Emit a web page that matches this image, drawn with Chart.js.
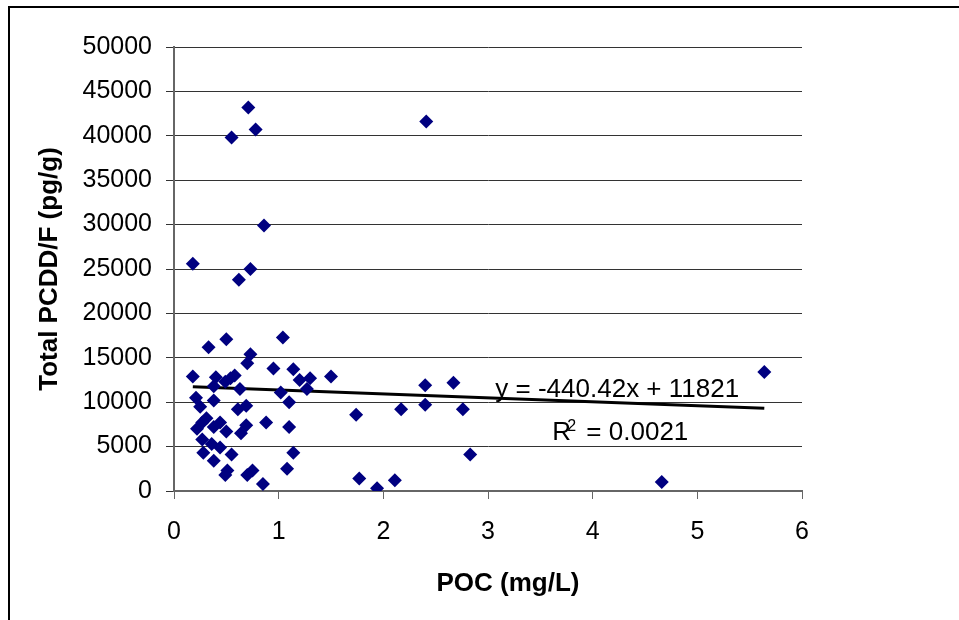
<!DOCTYPE html>
<html>
<head>
<meta charset="utf-8">
<script src="https://cdn.jsdelivr.net/npm/chart.js@4/dist/chart.umd.min.js"></script>
<style>
  html, body { margin: 0; padding: 0; background: #fff; }
  #wrap { width: 959px; height: 620px; }
</style>
</head>
<body>
<div id="wrap"><canvas id="poc-chart" width="959" height="620"></canvas></div>
<script>
// POC (mg/L)
const pocValues = [
  0.50, 0.33, 1.04, 0.73, 0.70, 0.95, 1.14, 0.18, 0.40, 0.58,
  0.54, 0.49, 0.38, 0.63, 1.20, 1.30, 1.50, 1.02, 1.27, 0.21,
  0.25, 0.38, 0.61, 0.69, 1.10, 1.74, 0.31, 0.27, 0.22, 0.44,
  0.38, 0.50, 0.69, 0.64, 0.88, 1.10, 0.27, 0.36, 0.44, 0.28,
  0.55, 1.14, 0.38, 0.51, 0.49, 0.75, 0.70, 1.08, 0.85, 1.77,
  0.55, 0.71, 0.78, 0.18, 0.73, 0.62, 0.86, 2.41, 2.40, 2.67,
  2.17, 2.40, 2.76, 2.83, 1.94, 2.11, 5.64, 4.66
];

// Total PCDD/F (pg/g), same order
const pcddValues = [
  17100, 16200, 17300, 15400, 14400, 13800, 13700, 12900, 12800, 13000,
  12700, 12300, 11800, 11500, 12500, 12700, 12900, 11100, 11500, 10500,
  9500, 10200, 9200, 9600, 10000, 8600, 8200, 7700, 7000, 7700,
  7200, 6700, 7400, 6500, 7700, 7200, 5800, 5300, 4900, 4300,
  4100, 4300, 3400, 2300, 1800, 2300, 1800, 2500, 800, 1400,
  39800, 43200, 40700, 25600, 25000, 23800, 29900, 41600, 11900, 12200,
  9200, 9700, 9200, 4100, 300, 1200, 13400, 1000
];

// linear trendline endpoints as drawn (y = -440.42x + 11821)
const trendX = [0.18, 5.64];
const trendY = [11740, 9330];

const trendEquation = "y = -440.42x + 11821";
const trendR2 = "0.0021";

const xTitle = "POC (mg/L)";
const yTitle = "Total PCDD/F (pg/g)";

const FONT = "'Liberation Sans', Arial, sans-serif";

let scatterPoints = pocValues.map(function(x, i) {
  return { x: x, y: pcddValues[i] };
});
let trendPoints = trendX.map(function(x, i) {
  return { x: x, y: trendY[i] };
});

// frame, axis titles and the trendline label
const decorPlugin = {
  id: "decor",
  afterDraw: function(chart) {
    let ctx = chart.ctx;
    let area = chart.chartArea;
    let xs = chart.scales.x;
    let ys = chart.scales.y;

    ctx.save();

    // outer frame (top + left only)
    ctx.strokeStyle = "#000";
    ctx.lineWidth = 2;
    ctx.beginPath();
    ctx.moveTo(959, 7);
    ctx.lineTo(9, 7);
    ctx.lineTo(9, 620);
    ctx.stroke();

    ctx.fillStyle = "#000";

    // x title
    ctx.font = "bold 26px " + FONT;
    ctx.textAlign = "center";
    ctx.textBaseline = "middle";
    ctx.fillText(xTitle, 508, 584);

    // y title
    ctx.save();
    ctx.translate(50, (area.top + area.bottom) / 2);
    ctx.rotate(-Math.PI / 2);
    ctx.fillText(yTitle, 0, 0);
    ctx.restore();

    // trendline label
    ctx.font = "26px " + FONT;
    ctx.textAlign = "left";
    ctx.textBaseline = "alphabetic";
    ctx.fillText(trendEquation, xs.getPixelForValue(3.07), ys.getPixelForValue(10630));

    let rx = xs.getPixelForValue(3.615);
    let ry = ys.getPixelForValue(5780);
    ctx.fillText("R", rx, ry);
    ctx.font = "16px " + FONT;
    ctx.fillText("2", rx + 15, ry - 9);
    ctx.font = "26px " + FONT;
    ctx.fillText("= " + trendR2, rx + 34, ry);

    ctx.restore();
  }
};

new Chart("poc-chart", {
  type: "scatter",
  data: {
    datasets: [
      {
        label: "PCDD/F",
        data: scatterPoints,
        pointStyle: "rectRot",
        pointRadius: 7,
        pointHoverRadius: 7,
        backgroundColor: "#000080",
        borderColor: "#000080",
        borderWidth: 0
      },
      {
        label: "Linear",
        data: trendPoints,
        showLine: true,
        pointRadius: 0,
        borderColor: "#000",
        borderWidth: 3,
        fill: false
      }
    ]
  },
  options: {
    responsive: false,
    animation: false,
    layout: {
      padding: { left: 0, top: 47, right: 157, bottom: 0 }
    },
    plugins: {
      legend: { display: false },
      tooltip: { enabled: false }
    },
    scales: {
      x: {
        type: "linear",
        min: 0,
        max: 6,
        afterFit: function(scale) { scale.height = 129; },
        ticks: {
          stepSize: 1,
          color: "#000",
          padding: 18,
          font: { family: FONT, size: 25 }
        },
        grid: {
          drawOnChartArea: false,
          drawTicks: true,
          tickLength: 8,
          color: "#666"
        },
        border: { color: "#666", width: 2 }
      },
      y: {
        min: 0,
        max: 50000,
        afterFit: function(scale) { scale.width = 174; },
        ticks: {
          stepSize: 5000,
          color: "#000",
          padding: 14,
          font: { family: FONT, size: 25 },
          callback: function(value) { return String(value); }
        },
        grid: {
          color: "#333",
          lineWidth: 1,
          tickLength: 8
        },
        border: { color: "#666", width: 2 }
      }
    }
  },
  plugins: [decorPlugin]
});
</script>
</body>
</html>
